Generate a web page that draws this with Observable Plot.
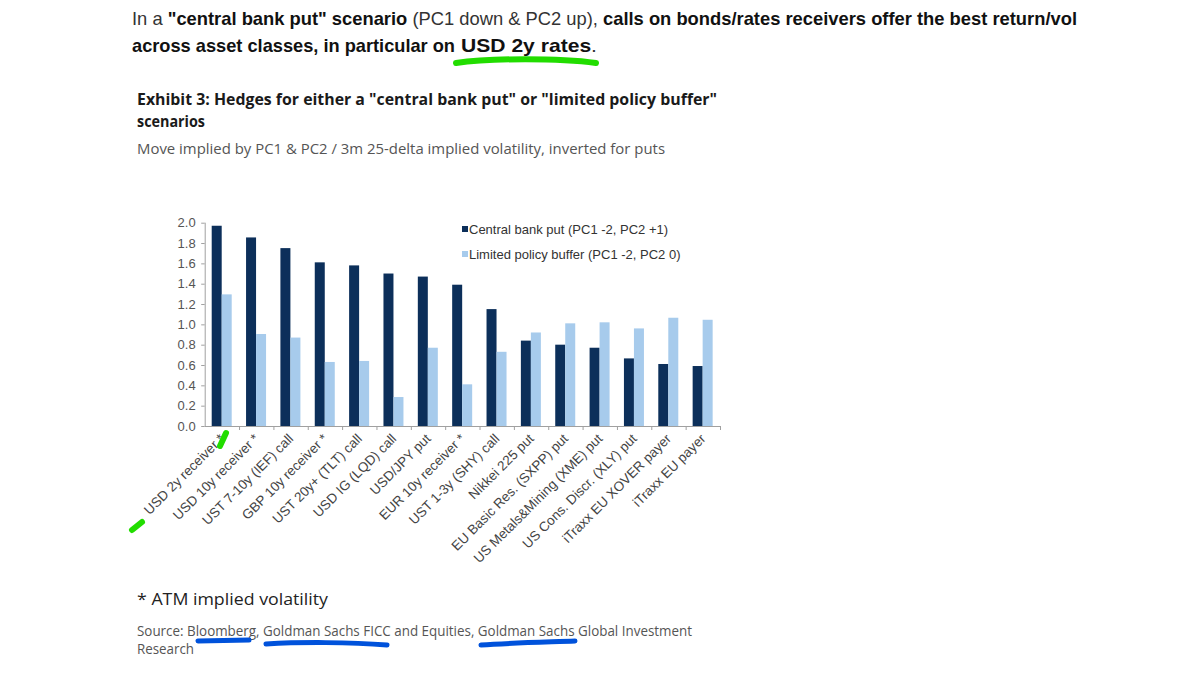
<!DOCTYPE html>
<html>
<head>
<meta charset="utf-8">
<script src="https://cdn.jsdelivr.net/npm/d3@7"></script>
<script src="https://cdn.jsdelivr.net/npm/@observablehq/plot@0.6"></script>
<style>
  html, body { margin: 0; padding: 0; background: #fff; }
  #page { position: relative; width: 1200px; height: 681px; overflow: hidden; }
  #notes { position: absolute; left: 0; top: 0; }
  #chart { position: absolute; left: 0; top: 200px; }
  .intro { font-family: "Liberation Sans", Arial, sans-serif; font-size: 18.5px; fill: #333; }
  .intro .b { font-weight: bold; fill: #111; }
  .gs { font-family: "Open Sans", "Noto Sans", sans-serif; }
  .legend { font-family: "Liberation Sans", Arial, sans-serif; font-size: 13px; fill: #333; }
</style>
</head>
<body>
<div id="page">
  <div id="chart"></div>
  <svg id="notes" width="1200" height="681"></svg>
</div>
<script>
// Hedge instruments, in the order shown along the x axis
const categories = [
  "USD 2y receiver *",
  "USD 10y receiver *",
  "UST 7-10y (IEF) call",
  "GBP 10y receiver *",
  "UST 20y+ (TLT) call",
  "USD IG (LQD) call",
  "USD/JPY put",
  "EUR 10y receiver *",
  "UST 1-3y (SHY) call",
  "Nikkei 225 put",
  "EU Basic Res. (SXPP) put",
  "US Metals&Mining (XME) put",
  "US Cons. Discr. (XLY) put",
  "iTraxx EU XOVER payer",
  "iTraxx EU payer"
];

// Move implied by PC1 & PC2 divided by 3m 25-delta implied vol
const centralBankPut = [1.97, 1.855, 1.75, 1.61, 1.58, 1.50, 1.47, 1.39, 1.15, 0.84, 0.80, 0.77, 0.665, 0.61, 0.59];
const limitedPolicyBuffer = [1.295, 0.905, 0.87, 0.63, 0.64, 0.285, 0.77, 0.41, 0.73, 0.92, 1.01, 1.02, 0.96, 1.065, 1.045];

const seriesNames = ["Central bank put (PC1 -2, PC2 +1)", "Limited policy buffer (PC1 -2, PC2 0)"];
const yTicks = [0, 0.2, 0.4, 0.6, 0.8, 1.0, 1.2, 1.4, 1.6, 1.8, 2.0];

const DARK = "#0c2f5a";
const LIGHT = "#a7cbec";
const AXIS = "#a0a0a0";

const rows = categories.map((category, i) => ({
  category,
  central: centralBankPut[i],
  limited: limitedPolicyBuffer[i]
}));

// Plot geometry
const W = 760, H = 380;
const mLeft = 204.7, mRight = 40, mTop = 22.7, mBottom = 154;
const step = (W - mLeft - mRight) / categories.length;
const half = step / 2;

const chart = Plot.plot({
  width: W,
  height: H,
  marginLeft: mLeft,
  marginRight: mRight,
  marginTop: mTop,
  marginBottom: mBottom,
  style: {background: "transparent", fontFamily: '"Liberation Sans", Arial, sans-serif', overflow: "visible"},
  x: {domain: categories, padding: 0, round: false},
  y: {domain: [0, 2]},
  marks: [
    Plot.barY(rows, {x: "category", y: "central", fill: DARK, insetLeft: 7, insetRight: step - 17}),
    Plot.barY(rows, {x: "category", y: "limited", fill: LIGHT, insetLeft: 17, insetRight: step - 27}),
    Plot.ruleY([0], {stroke: AXIS}),
    Plot.ruleX(categories.slice(0, 1), {x: (d) => d, y1: 0, y2: 2, dx: -half, stroke: AXIS}),
    Plot.ruleX(categories, {x: (d) => d, y1: 0, y2: 0, insetBottom: -4, dx: half, stroke: AXIS}),
    Plot.axisY({ticks: yTicks, tickFormat: d3.format(".1f"), tickSize: 3.5, tickPadding: 6,
      stroke: AXIS, fill: "#555", fontSize: 13, label: null}),
    Plot.axisX({tickSize: 0, tickRotate: -45, tickPadding: 10, fill: "#444", fontSize: 13.5, label: null})
  ]
});
document.getElementById("chart").append(chart);

// Surrounding text, legend and highlighter strokes
const svg = d3.select("#notes");

function line(parent, x, y, cls, parts, width) {
  const t = parent.append("text").attr("x", x).attr("y", y).attr("class", cls);
  parts.forEach(([txt, bold]) => {
    const s = t.append("tspan").text(txt);
    if (bold) s.attr("class", "b");
  });
  if (width) t.attr("textLength", width).attr("lengthAdjust", "spacingAndGlyphs");
  return t;
}

line(svg, 132, 25, "intro", [
  ["In a ", false],
  ["\"central bank put\" scenario", true],
  [" (PC1 down & PC2 up), ", false],
  ["calls on bonds/rates receivers offer the best return/vol", true]
], 945);
line(svg, 132, 52, "intro", [
  ["across asset classes, in particular on", true]
], 323);
line(svg, 461, 52, "intro", [
  ["USD 2y rates", true],
  [".", false]
], 136);

svg.append("text").attr("class", "gs").attr("x", 137).attr("y", 105)
  .attr("font-size", 16).attr("font-weight", 700).attr("fill", "#1a1a1a")
  .attr("textLength", 580).attr("lengthAdjust", "spacingAndGlyphs")
  .text("Exhibit 3: Hedges for either a \"central bank put\" or \"limited policy buffer\"");
svg.append("text").attr("class", "gs").attr("x", 137).attr("y", 127)
  .attr("font-size", 16).attr("font-weight", 700).attr("fill", "#1a1a1a")
  .attr("textLength", 68).attr("lengthAdjust", "spacingAndGlyphs")
  .text("scenarios");
svg.append("text").attr("class", "gs").attr("x", 137).attr("y", 154)
  .attr("font-size", 14.5).attr("fill", "#555")
  .attr("textLength", 528).attr("lengthAdjust", "spacingAndGlyphs")
  .text("Move implied by PC1 & PC2 / 3m 25-delta implied volatility, inverted for puts");

// legend
[DARK, LIGHT].forEach((c, i) => {
  const y = 229 + i * 25;
  svg.append("rect").attr("x", 462).attr("y", y - 3).attr("width", 6).attr("height", 6).attr("fill", c);
  svg.append("text").attr("class", "legend").attr("x", 469).attr("y", y + 4.5).text(seriesNames[i]);
});

svg.append("text").attr("class", "gs").attr("x", 137).attr("y", 605)
  .attr("font-size", 16.5).attr("fill", "#222")
  .attr("textLength", 191).attr("lengthAdjust", "spacingAndGlyphs")
  .text("* ATM implied volatility");
svg.append("text").attr("class", "gs").attr("x", 137).attr("y", 636)
  .attr("font-size", 14).attr("fill", "#555")
  .attr("textLength", 555).attr("lengthAdjust", "spacingAndGlyphs")
  .text("Source: Bloomberg, Goldman Sachs FICC and Equities, Goldman Sachs Global Investment");
svg.append("text").attr("class", "gs").attr("x", 137).attr("y", 654)
  .attr("font-size", 14).attr("fill", "#555")
  .attr("textLength", 57).attr("lengthAdjust", "spacingAndGlyphs")
  .text("Research");

// highlighter strokes
const green = "#22dd00", blue = "#0052db";
const strokes = [
  ["M456,63 C490,58 560,58 596,63", green, 6],
  ["M220,446 L226,433", green, 6],
  ["M132,530 L142,522", green, 6],
  ["M198,641 L249,640", blue, 5],
  ["M266,644 C300,642 350,642 387,645", blue, 5],
  ["M481,645 C510,643 550,642 575,641", blue, 5]
];
strokes.forEach(([d, c, w]) => {
  svg.append("path").attr("d", d).attr("fill", "none").attr("stroke", c)
    .attr("stroke-width", w).attr("stroke-linecap", "round");
});
</script>
</body>
</html>
